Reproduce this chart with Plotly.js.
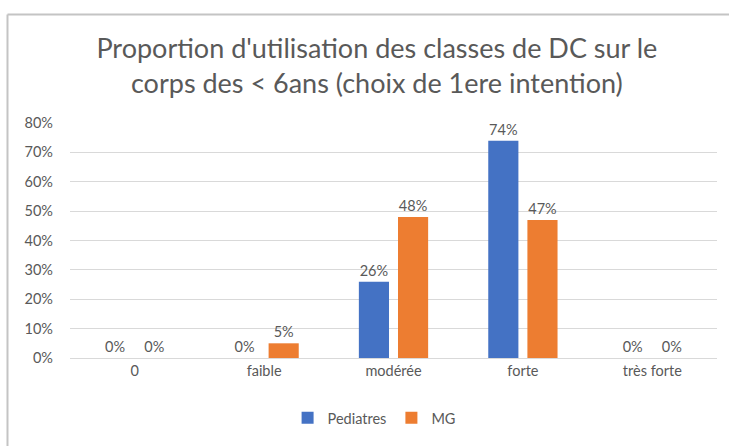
<!DOCTYPE html>
<html>
<head>
<meta charset="utf-8">
<script src="https://cdn.plot.ly/plotly-3.0.1.min.js"></script>
<style>html,body{margin:0;padding:0;background:#fff;}#chart{width:729px;height:446px;}</style>
</head>
<body>
<div id="chart"></div>
<script>
const categories = ["0", "faible", "modérée", "forte", "très forte"];
const pediatres = [0, 0, 0.26, 0.74, 0];
const mg = [0, 0.05, 0.48, 0.47, 0];
const seriesNames = ["Pediatres", "MG"];
const yTickVals = [0, 0.1, 0.2, 0.3, 0.4, 0.5, 0.6, 0.7, 0.8];
const yTickText = ["0%", "10%", "20%", "30%", "40%", "50%", "60%", "70%", "80%"];

const fontFam = "Lato, 'Open Sans', sans-serif";
const grey = "#595959";
function pct(v){ return Math.round(v*100) + "%"; }

const traces = [
  {type:"bar", name:seriesNames[0], x:categories, y:pediatres, marker:{color:"#4472C4"},
   text:pediatres.map(pct), textposition:"outside", cliponaxis:false,
   textfont:{family:fontFam, size:14.5, color:grey}, hoverinfo:"skip"},
  {type:"bar", name:seriesNames[1], x:categories, y:mg, marker:{color:"#ED7D31"},
   text:mg.map(pct), textposition:"outside", cliponaxis:false,
   textfont:{family:fontFam, size:14.5, color:grey}, hoverinfo:"skip"}
];

const layout = {
  width:729, height:446,
  margin:{l:70, r:12, t:123, b:86},
  paper_bgcolor:"#fff", plot_bgcolor:"#fff",
  font:{family:fontFam, color:grey, size:14},
  title:{text:"Proportion d'utilisation des classes de DC sur le<br>corps des &lt; 6ans (choix de 1ere intention)",
         font:{family:fontFam, size:27, color:grey}, x:0.517, xanchor:"center", y:0.87, yanchor:"top"},
  barmode:"group", bargap:0.395, bargroupgap:0.23,
  showlegend:true,
  legend:{orientation:"h", x:0.47, xanchor:"center", y:-0.255, yanchor:"middle",
          font:{family:fontFam, size:14.5, color:grey}, itemwidth:30},
  xaxis:{type:"category", showgrid:false, showline:true, linecolor:"#d9d9d9", linewidth:1,
         ticks:"", tickfont:{family:fontFam, size:14.5, color:grey}, fixedrange:true},
  yaxis:{range:[0,0.8], tickvals:yTickVals, ticktext:yTickText, showgrid:true, gridcolor:"#d9d9d9",
         gridwidth:1, zeroline:false, showline:false, ticks:"", ticklabelstandoff:16,
         tickfont:{family:fontFam, size:14.5, color:grey}, fixedrange:true},
  shapes:[
    {type:"line", xref:"paper", yref:"paper", x0:-0.0966, x1:1.05, y0:1.462, y1:1.462, line:{color:"#c4c4c4", width:2}, layer:"below"},
    {type:"line", xref:"paper", yref:"paper", x0:-0.0966, x1:-0.0966, y0:1.462, y1:-0.4, line:{color:"#c4c4c4", width:2}, layer:"below"}
  ]
};

Plotly.newPlot("chart", traces, layout, {displayModeBar:false, staticPlot:true});
</script>
</body>
</html>
